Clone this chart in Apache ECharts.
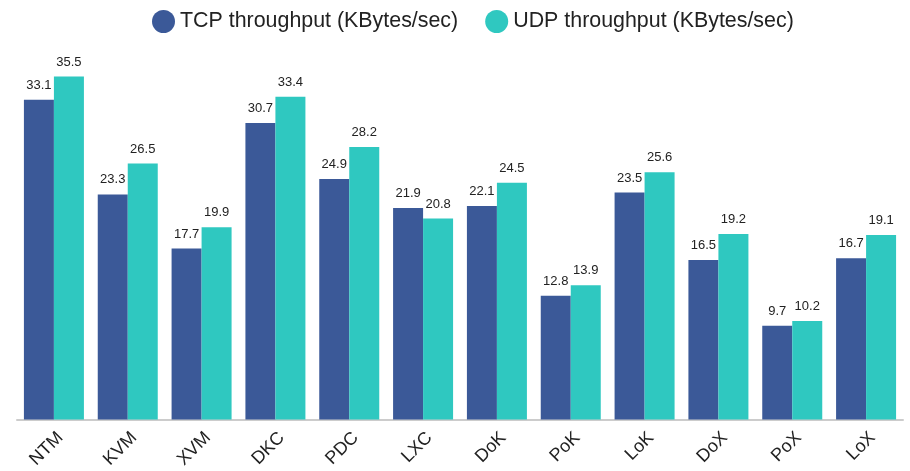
<!DOCTYPE html>
<html>
<head>
<meta charset="utf-8">
<script src="https://cdn.jsdelivr.net/npm/echarts@6/dist/echarts.min.js"></script>
<style>
  html, body { margin: 0; padding: 0; background: #fff; }
  #chart { width: 910px; height: 471px; }
</style>
</head>
<body>
<div id="chart"></div>
<script>
const categories = ['NTM', 'KVM', 'XVM', 'DKC', 'PDC', 'LXC', 'DoK', 'PoK', 'LoK', 'DoX', 'PoX', 'LoX']
const tcpThroughput = [33.1, 23.3, 17.7, 30.7, 24.9, 21.9, 22.1, 12.8, 23.5, 16.5, 9.7, 16.7]
const udpThroughput = [35.5, 26.5, 19.9, 33.4, 28.2, 20.8, 24.5, 13.9, 25.6, 19.2, 10.2, 19.1]

const chart = echarts.init(document.getElementById('chart'))

const barLabel = {
  show: true,
  position: 'top',
  distance: 8,
  color: '#222',
  fontSize: 13,
  fontFamily: 'Liberation Sans'
}

chart.setOption({
  animation: false,
  textStyle: { fontFamily: 'Liberation Sans' },
  legend: {
    data: ['TCP throughput (KBytes/sec)', 'UDP throughput (KBytes/sec)'],
    icon: 'circle',
    top: 5,
    left: 147,
    itemWidth: 23,
    itemHeight: 23,
    itemGap: 27,
    textStyle: {
      fontSize: 21.4,
      color: '#222'
    }
  },
  grid: {
    left: 17,
    right: 7,
    top: 33,
    bottom: 50
  },
  xAxis: {
    type: 'category',
    data: categories,
    axisTick: { show: false },
    axisLine: {
      lineStyle: { color: '#ccc', width: 2 }
    },
    axisLabel: {
      rotate: 45,
      margin: 9,
      fontSize: 18,
      color: '#222',
      verticalAlign: 'top'
    }
  },
  yAxis: {
    type: 'value',
    min: 0,
    max: 40,
    show: false,
    splitLine: { show: false }
  },
  series: [
    {
      name: 'TCP throughput (KBytes/sec)',
      type: 'bar',
      data: tcpThroughput,
      barWidth: 30,
      barGap: '0%',
      itemStyle: { color: '#3B5998' },
      label: barLabel
    },
    {
      name: 'UDP throughput (KBytes/sec)',
      type: 'bar',
      data: udpThroughput,
      barWidth: 30,
      itemStyle: { color: '#2FC8C0' },
      label: barLabel
    }
  ]
})
</script>
</body>
</html>
